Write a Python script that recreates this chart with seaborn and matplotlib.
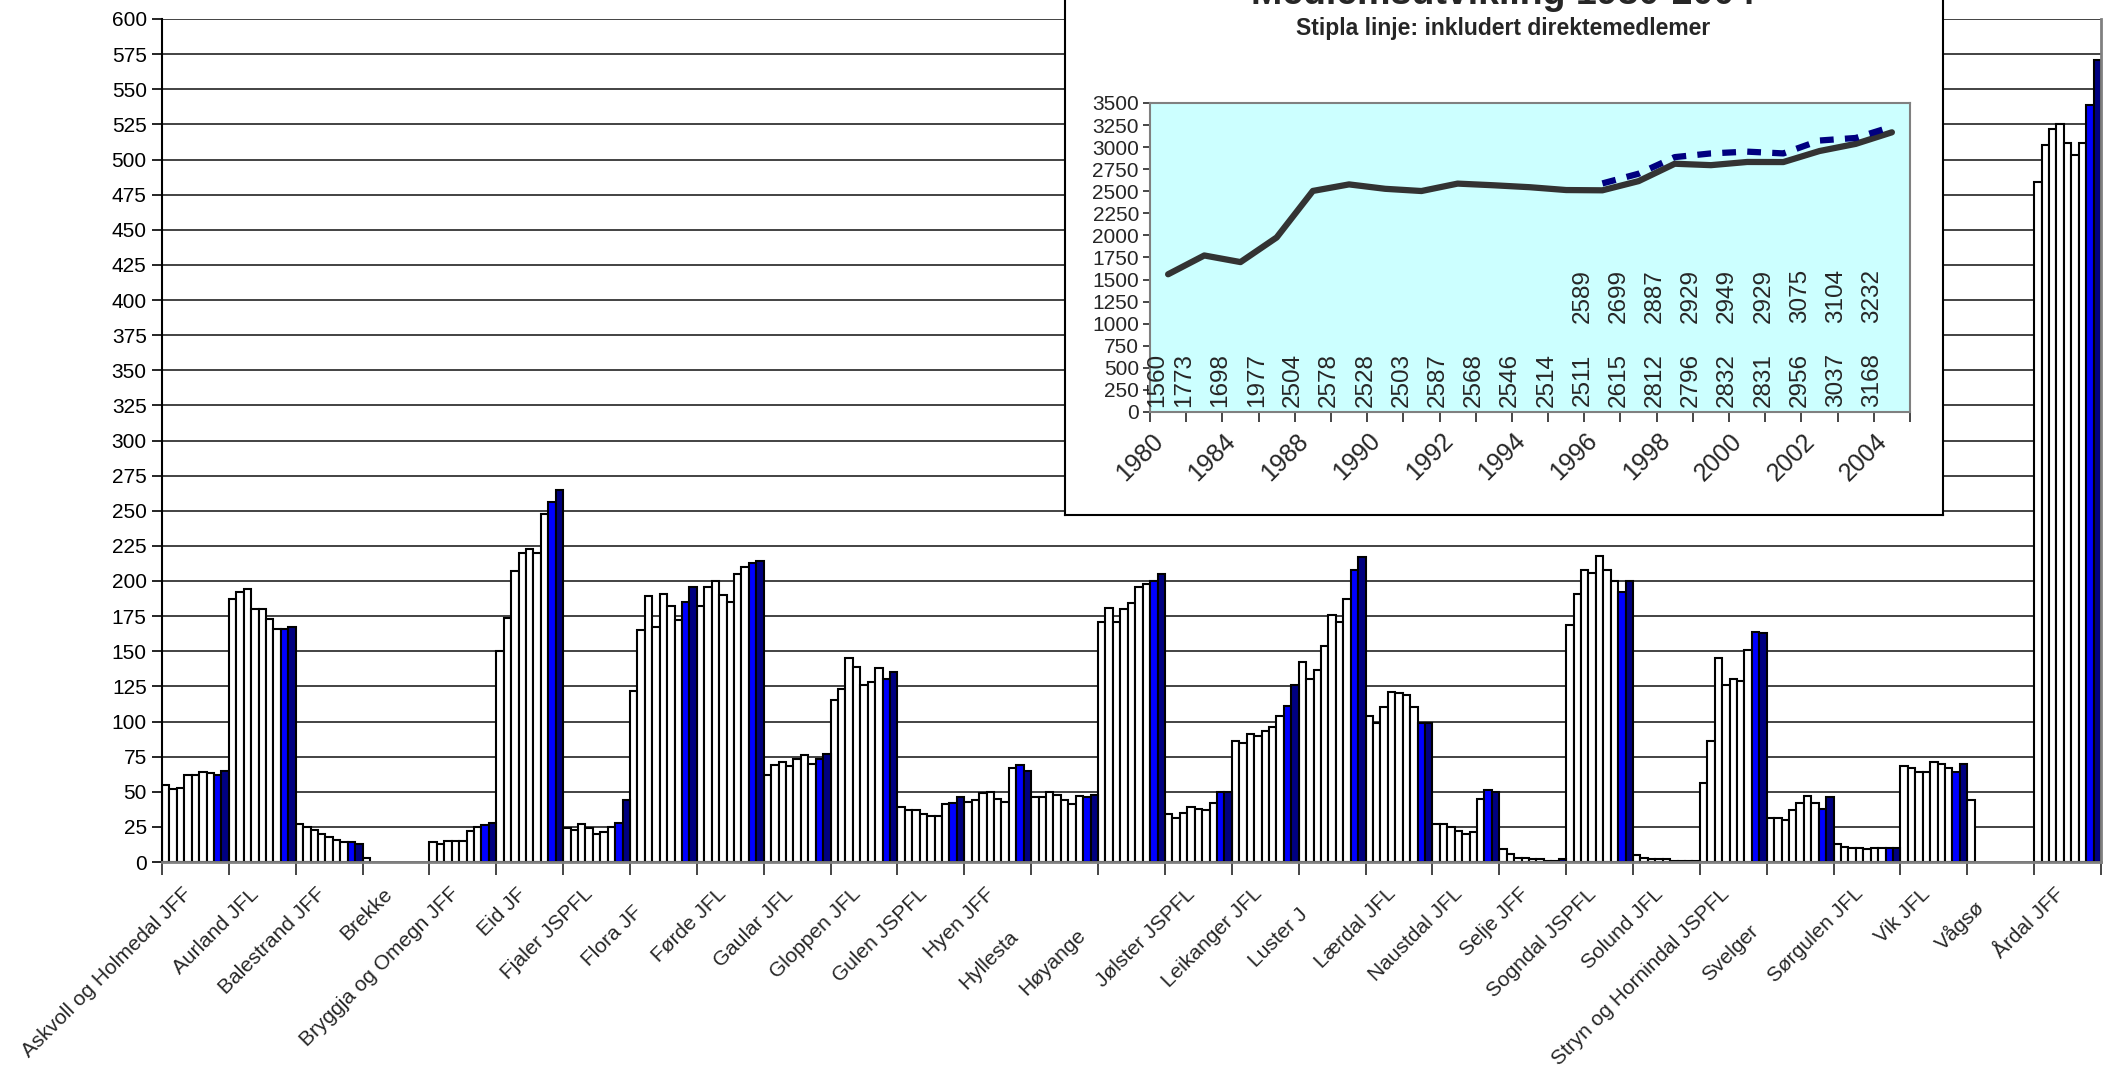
import numpy as np
import pandas as pd
import matplotlib
matplotlib.use("Agg")
import matplotlib.pyplot as plt
import matplotlib.transforms as mtransforms
import seaborn as sns

# ---------------- data: main bar chart ----------------
years = ["1996", "1997", "1998", "1999", "2000", "2001", "2002", "2003", "2004"]
org_labels = [
    "Askvoll og Holmedal JFF", "Aurland JFL", "Balestrand JFF", "Brekke",
    "Bryggja og Omegn JFF", "Eid JF", "Fjaler JSPFL", "Flora JF", "Førde JFL",
    "Gaular JFL", "Gloppen JFL", "Gulen JSPFL", "Hyen JFF", "Hyllesta",
    "Høyange", "Jølster JSPFL", "Leikanger JFL", "Luster J", "Lærdal JFL",
    "Naustdal JFL", "Selje JFF", "Sogndal JSPFL", "Solund JFL",
    "Stryn og Hornindal JSPFL", "Svelger", "Sørgulen JFL", "Vik JFL", "Vågsø",
    "Årdal JFF",
]
nan = np.nan
askvoll = [55, 52, 53, 62, 62, 64, 63, 62, 65]
aurland = [187, 192, 194, 180, 180, 173, 166, 166, 167]
balestrand = [27, 25, 23, 20, 18, 16, 14, 14, 13]
brekke = [3, nan, nan, nan, nan, nan, nan, nan, nan]
bryggja = [14, 13, 15, 15, 15, 22, 25, 26, 28]
eid = [150, 174, 207, 220, 223, 220, 248, 256, 265]
fjaler = [24, 23, 27, 24, 20, 21, 25, 28, 44]
flora = [122, 165, 189, 167, 191, 182, 172, 185, 196]
forde = [182, 196, 200, 190, 185, 205, 210, 213, 214]
gaular = [62, 69, 71, 68, 73, 76, 70, 73, 77]
gloppen = [115, 123, 145, 139, 126, 128, 138, 130, 135]
gulen = [39, 37, 37, 34, 33, 33, 41, 42, 46]
hyen = [43, 44, 49, 50, 45, 43, 67, 69, 65]
hyllestad = [46, 46, 50, 48, 44, 41, 47, 46, 48]
hoyanger = [171, 181, 171, 180, 184, 196, 198, 200, 205]
jolster = [34, 31, 35, 39, 38, 37, 42, 50, 50]
leikanger = [86, 85, 91, 90, 93, 96, 104, 111, 126]
luster = [142, 130, 137, 154, 176, 171, 187, 208, 217]
laerdal = [104, 99, 110, 121, 120, 119, 110, 99, 99]
naustdal = [27, 27, 25, 22, 20, 21, 45, 51, 50]
selje = [9, 6, 3, 3, 2, 2, 1, 1, 2]
sogndal = [169, 191, 208, 206, 218, 208, 200, 192, 200]
solund = [5, 3, 2, 2, 2, 1, 1, 1, 1]
stryn = [56, 86, 145, 126, 130, 129, 151, 164, 163]
svelgen = [31, 31, 30, 37, 42, 47, 42, 38, 46]
sorgulen = [13, 11, 10, 10, 9, 10, 10, 10, 10]
vik = [68, 67, 64, 64, 71, 70, 67, 64, 70]
vagsoy = [44, nan, nan, nan, nan, nan, nan, nan, nan]
ardal = [484, 510, 522, 525, 512, 503, 512, 539, 571]

org_values = [askvoll, aurland, balestrand, brekke, bryggja, eid, fjaler, flora,
              forde, gaular, gloppen, gulen, hyen, hyllestad, hoyanger, jolster,
              leikanger, luster, laerdal, naustdal, selje, sogndal, solund, stryn,
              svelgen, sorgulen, vik, vagsoy, ardal]

# ---------------- data: inset line chart ----------------
member_years = ["1980", "1982", "1984", "1986", "1988", "1989", "1990", "1991",
                "1992", "1993", "1994", "1995", "1996", "1997", "1998", "1999",
                "2000", "2001", "2002", "2003", "2004"]
members = [1560, 1773, 1698, 1977, 2504, 2578, 2528, 2503, 2587, 2568, 2546,
           2514, 2511, 2615, 2812, 2796, 2832, 2831, 2956, 3037, 3168]
direct_years = ["1996", "1997", "1998", "1999", "2000", "2001", "2002", "2003", "2004"]
members_direct = [2589, 2699, 2887, 2929, 2949, 2929, 3075, 3104, 3232]

# ---------------- style ----------------
sns.set_style("white")
plt.rcParams["font.family"] = ["Liberation Sans", "DejaVu Sans"]

W, H = 2119, 1075
fig = plt.figure(figsize=(W / 100, H / 100), dpi=100)

# main axes
ax = fig.add_axes([162 / W, 1 - 862 / H, (2101 - 162) / W, (862 - 19) / H])

rows = []
for org, vals in zip(org_labels, org_values):
    for yr, v in zip(years, vals):
        if not np.isnan(v):
            rows.append({"org": org, "year": yr, "value": v})
df = pd.DataFrame(rows)

palette = {y: "#FFFFFF" for y in years}
palette["2003"] = "#0000FF"
palette["2004"] = "#000080"

sns.barplot(data=df, x="org", y="value", hue="year", order=org_labels,
            hue_order=years, palette=palette, saturation=1, width=1.0, gap=0,
            dodge=True, edgecolor="black", linewidth=1.5, errorbar=None,
            legend=False, ax=ax, zorder=2)

ax.set_xlim(-0.5, len(org_labels) - 0.5)
ax.set_ylim(0, 600)
ax.set_yticks(np.arange(0, 601, 25))
ax.yaxis.grid(True, color="#222222", linewidth=1.2)
ax.xaxis.grid(False)
ax.set_axisbelow(True)
ax.set_xlabel("")
ax.set_ylabel("")
ax.tick_params(axis="y", labelsize=15, length=7, width=1.2, direction="out",
               left=True, pad=4, colors="black")

ax.set_xticks(np.arange(len(org_labels)))
ax.set_xticklabels(org_labels, rotation=45, ha="right", va="top", fontsize=15)
ax.set_xticks(np.arange(-0.5, len(org_labels), 1), minor=True)
ax.tick_params(axis="x", which="major", length=0, pad=16)
ax.tick_params(axis="x", which="minor", length=9, width=1.2, direction="out",
               bottom=True)

ax.spines["left"].set_color("black")
ax.spines["left"].set_linewidth(1.5)
ax.spines["bottom"].set_color("#808080")
ax.spines["bottom"].set_linewidth(2.0)
ax.spines["right"].set_color("#808080")
ax.spines["right"].set_linewidth(2.0)
ax.spines["top"].set_visible(False)

# labels that the original chart clipped: they keep their start point,
# so slide them back along their 45-degree line (pixels)
clip_shift = {"Flora JF": 25, "Hyllesta": 61, "Høyange": 59, "Luster J": 29,
              "Svelger": 53, "Vågsø": 17}
for lab in ax.get_xticklabels():
    d = clip_shift.get(lab.get_text())
    if d:
        s = d / np.sqrt(2) / 100
        off = mtransforms.ScaledTranslation(-s, -s, fig.dpi_scale_trans)
        lab.set_transform(lab.get_transform() + off)

# ---------------- inset panel ----------------
pax = fig.add_axes([1065 / W, 1 - 515 / H, (1943 - 1065) / W, 0.56], zorder=3)
pax.set_facecolor("white")
pax.set_xticks([])
pax.set_yticks([])
for s in pax.spines.values():
    s.set_color("black")
    s.set_linewidth(1.5)

fig.text(1503 / W, 1 - 4 / H, "Medlemsutvikling 1980-2004", ha="center",
         va="baseline", fontsize=27, fontweight="bold", zorder=5)
fig.text(1503 / W, 1 - 29 / H, "Stipla linje: inkludert direktemedlemer",
         ha="center", va="center", fontsize=16.5, fontweight="bold", zorder=5)

iax = fig.add_axes([1150 / W, 1 - 412 / H, (1910 - 1150) / W, (412 - 103) / H],
                   zorder=4)
iax.set_facecolor("#CCFFFF")
sns.lineplot(x=member_years, y=members, ax=iax, color="#333333", linewidth=4.5,
             sort=False)
sns.lineplot(x=direct_years, y=members_direct, ax=iax, color="#000080",
             linewidth=4.5, linestyle=(0, (2.2, 1.8)), sort=False)

iax.set_xlim(-0.5, len(member_years) - 0.5)
iax.set_ylim(0, 3500)
iax.set_yticks(np.arange(0, 3501, 250))
iax.tick_params(axis="y", labelsize=15, length=5, width=1.2, direction="out",
                left=True, pad=3)
iax.set_xticks(np.arange(len(member_years)))
iax.set_xticklabels([y if i % 2 == 0 else "" for i, y in enumerate(member_years)],
                    rotation=45, ha="right", va="top", fontsize=18)
iax.set_xticks(np.arange(-0.5, len(member_years), 1), minor=True)
iax.tick_params(axis="x", which="major", length=0, pad=12)
iax.tick_params(axis="x", which="minor", length=7, width=1.2, direction="out",
                bottom=True)
iax.set_xlabel("")
iax.set_ylabel("")
for s in iax.spines.values():
    s.set_color("#808080")
    s.set_linewidth(1.5)

for i, v in enumerate(members):
    iax.text(max(i - 0.55, -0.3), 360, str(v), rotation=90, ha="center",
             va="center", fontsize=17.5)
offset = member_years.index(direct_years[0])
for j, v in enumerate(members_direct):
    iax.text(offset + j - 0.55, 1310, str(v), rotation=90, ha="center",
             va="center", fontsize=17.5)

fig.savefig("out.png", dpi=100)
